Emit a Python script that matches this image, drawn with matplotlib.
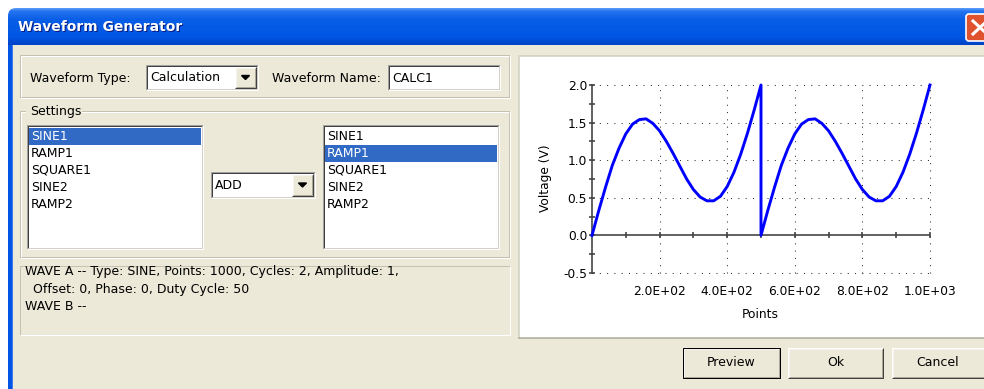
import matplotlib
matplotlib.use('Agg')
import numpy as np
import matplotlib.pyplot as plt
from matplotlib.patches import Rectangle, FancyBboxPatch
from matplotlib.colors import LinearSegmentedColormap

plt.rcParams['font.family'] = ['DejaVu Sans']

W, H = 984, 389

wave_x = list(range(0, 501, 20)) + list(range(500, 1001, 20))
wave_y = [0.00, 0.33, 0.64, 0.93, 1.16, 1.35, 1.48, 1.54, 1.55, 1.49, 1.39, 1.25, 1.09,
          0.92, 0.75, 0.61, 0.51, 0.46, 0.46, 0.52, 0.65, 0.84, 1.08, 1.36, 1.67, 2.00,
          0.00, 0.33, 0.64, 0.93, 1.16, 1.35, 1.48, 1.54, 1.55, 1.49, 1.39, 1.25, 1.09,
          0.92, 0.75, 0.61, 0.51, 0.46, 0.46, 0.52, 0.65, 0.84, 1.08, 1.36, 1.67, 2.00]

x_ticks = [200, 400, 600, 800, 1000]
x_labels = ['2.0E+02', '4.0E+02', '6.0E+02', '8.0E+02', '1.0E+03']
y_ticks = [-0.5, 0.0, 0.5, 1.0, 1.5, 2.0]
y_labels = ['-0.5', '0.0', '0.5', '1.0', '1.5', '2.0']

wave_items = ['SINE1', 'RAMP1', 'SQUARE1', 'SINE2', 'RAMP2']
info_lines = ['WAVE A -- Type: SINE, Points: 1000, Cycles: 2, Amplitude: 1,',
              '  Offset: 0, Phase: 0, Duty Cycle: 50',
              'WAVE B --']

BG = '#ECE9D8'
SEL = '#316AC5'
PX = 0.72  # one pixel in points

fig = plt.figure(figsize=(W / 100, H / 100), dpi=100)
ax0 = fig.add_axes([0, 0, 1, 1])
ax0.set_xlim(0, W)
ax0.set_ylim(H, 0)
ax0.axis('off')


def box(x0, y0, x1, y1, fc, ec='none', lw=1, z=1):
    ax0.add_patch(Rectangle((x0, y0), x1 - x0, y1 - y0, facecolor=fc,
                            edgecolor=ec, linewidth=lw * PX, zorder=z))


def edge3d(x0, y0, x1, y1, tl, br, z=3):
    ax0.plot([x0, x0, x1], [y1, y0, y0], color=tl, lw=PX, zorder=z, solid_capstyle='butt')
    ax0.plot([x0, x1, x1], [y1, y1, y0], color=br, lw=PX, zorder=z, solid_capstyle='butt')


def sunken(x0, y0, x1, y1, fc='white'):
    box(x0, y0, x1, y1, fc)
    edge3d(x0, y0, x1, y1, '#A0A0A0', 'white')
    edge3d(x0 + 1, y0 + 1, x1 - 1, y1 - 1, '#404040', '#D4D0C8')


def raised(x0, y0, x1, y1, fc=BG):
    box(x0, y0, x1, y1, fc)
    edge3d(x0, y0, x1, y1, 'white', '#404040')
    edge3d(x0 + 1, y0 + 1, x1 - 1, y1 - 1, '#F4F3EE', '#ACA899')


def etched(x0, y0, x1, y1):
    edge3d(x0, y0, x1, y1, '#C5C2B2', 'white')
    edge3d(x0 + 1, y0 + 1, x1 - 1, y1 - 1, 'white', '#C5C2B2')


def label(x, y, s, size=9, color='black', ha='left', **kw):
    ax0.text(x, y, s, fontsize=size, color=color, ha=ha, va='center', zorder=6, **kw)


def combo(x0, y0, x1, y1, text):
    sunken(x0, y0, x1, y1)
    raised(x1 - 23, y0 + 2, x1 - 2, y1 - 2)
    bx = (x1 - 23 + x1 - 2) / 2
    by = (y0 + y1) / 2
    ax0.add_patch(plt.Polygon([[bx - 4, by - 2], [bx + 4, by - 2], [bx, by + 2]],
                              color='black', zorder=6))
    label(x0 + 4, by, text)


# window body and frame
box(0, 0, W, H, 'white', z=0)
box(8, 40, W + 5, H + 5, BG, z=0.5)
box(8, 40, 12, H + 5, '#0055E5', z=0.6)
ax0.plot([12, 12], [45, H], color='#3D7BE8', lw=PX, zorder=0.7)

# title bar gradient with rounded corner
title_cmap = LinearSegmentedColormap.from_list(
    'xp', [(0, '#5A9CF8'), (0.08, '#2474F0'), (0.3, '#0A5FE8'), (0.8, '#0055E3'), (1, '#0043C4')])
grad = np.linspace(0, 1, 64).reshape(-1, 1)
im = ax0.imshow(grad, cmap=title_cmap, extent=[8, W + 10, 45, 8], aspect='auto', zorder=1)
clip = FancyBboxPatch((8, 8), W + 20, 60, boxstyle='round,pad=0,rounding_size=8',
                      transform=ax0.transData, facecolor='none', edgecolor='none')
ax0.add_patch(clip)
im.set_clip_path(clip)
ax0.text(19, 28, 'Waveform Generator', fontsize=10, fontweight='bold',
         color='#0A1E80', va='center', zorder=6)
ax0.text(18, 27, 'Waveform Generator', fontsize=10, fontweight='bold',
         color='white', va='center', zorder=7)

# close button
ax0.add_patch(FancyBboxPatch((966, 14), 30, 27, boxstyle='round,pad=0,rounding_size=3',
                             facecolor='#E0522E', edgecolor='white', linewidth=1.2, zorder=5))
ax0.plot([973, 987], [21, 34], color='white', lw=2.2, zorder=6)
ax0.plot([973, 987], [34, 21], color='white', lw=2.2, zorder=6)

# top group
etched(20, 55, 510, 98)
label(30, 78, 'Waveform Type:')
combo(146, 65, 258, 90, 'Calculation')
label(272, 78, 'Waveform Name:')
sunken(388, 65, 500, 90)
label(392, 78, 'CALC1')

# settings group
etched(20, 111, 510, 258)
box(26, 103, 82, 119, BG, z=4)
label(30, 111, 'Settings')


def listbox(x0, x1, selected):
    sunken(x0, 125, x1, 249)
    for i, name in enumerate(wave_items):
        yc = 136 + 17 * i
        col = 'black'
        if i == selected:
            box(x0 + 2, yc - 8.5, x1 - 2, yc + 8.5, SEL, z=4)
            col = 'white'
        label(x0 + 4, yc, name, color=col)


listbox(27, 203, 0)
listbox(323, 499, 1)
combo(211, 172, 315, 198, 'ADD')

# info box
box(20, 266, 510, 335, BG)
edge3d(20, 266, 510, 335, '#C5C2B2', 'white')
for i, line in enumerate(info_lines):
    label(25, 272 + 17 * i, line)

# preview panel
box(519, 56, W + 5, 338, 'white')
ax0.plot([519, 519, W], [338, 56, 56], color='#D0CEBF', lw=1.5 * PX, zorder=3)
ax0.plot([519, W], [338, 338], color='#ACA899', lw=1.5 * PX, zorder=3)
ax0.text(546, 178, 'Voltage (V)', fontsize=8.8, rotation=90, ha='center', va='center', zorder=6)
ax0.text(760, 315, 'Points', fontsize=8.8, ha='center', va='center', zorder=6)

# buttons
raised(683, 348, 780, 378)
box(683, 348, 780, 378, 'none', ec='black', z=4)
label(731, 363, 'Preview', ha='center')
raised(788, 348, 883, 378)
label(836, 363, 'Ok', ha='center')
raised(892, 348, W + 10, 378)
label(938, 363, 'Cancel', ha='center')

# the chart
ax = fig.add_axes([592 / W, 1 - 273 / H, (930 - 592) / W, (273 - 85) / H])
ax.set_facecolor('none')
ax.set_xlim(0, 1000)
ax.set_ylim(-0.5, 2.0)
for s in ['top', 'right', 'bottom']:
    ax.spines[s].set_visible(False)
ax.spines['left'].set_color('#404040')
ax.spines['left'].set_linewidth(1.6 * PX)

for v in x_ticks:
    ax.axvline(v, color='#303030', lw=0.75, ls=(0, (1, 6)), clip_on=False, zorder=1)
for v in y_ticks:
    if v != 0:
        ax.axhline(v, color='#303030', lw=0.75, ls=(0, (1, 6)), clip_on=False, zorder=1)
ax.axhline(0, color='#404040', lw=1.6 * PX, zorder=2)
ax.plot(list(range(100, 1001, 100)), [0] * 10, ls='none', marker='|', ms=5,
        mew=1.6 * PX, color='#404040', zorder=2)

ax.plot(wave_x, wave_y, color='#0000FF', lw=2.1, zorder=3, clip_on=False)

ax.set_xticks(x_ticks)
ax.set_xticklabels(x_labels)
ax.tick_params(axis='x', length=0, pad=8.3, labelsize=8.8)
ax.set_yticks(y_ticks)
ax.set_yticklabels(y_labels)
ax.set_yticks(np.arange(-0.25, 2.0, 0.5), minor=True)
ax.tick_params(axis='y', which='both', direction='inout', length=5,
               width=1.6 * PX, color='#404040', pad=1, labelsize=8.8)

fig.savefig('out.png', dpi=100)
